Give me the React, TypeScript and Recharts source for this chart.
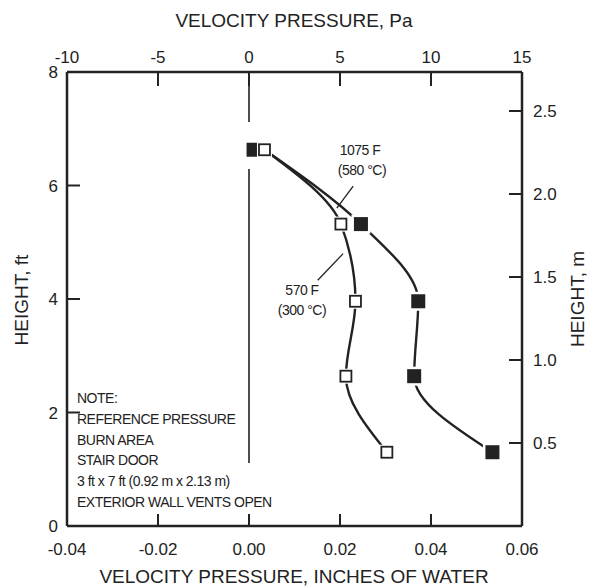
import { ComposedChart, Scatter, XAxis, YAxis, ReferenceLine } from 'recharts';

// heights of the five measuring points, ft
const heightsFt = [6.63, 5.32, 3.96, 2.64, 1.3];
// velocity pressure, inches of water
const hotPressure = [0.001, 0.0246, 0.0372, 0.0363, 0.0535]; // 1075 F (580 °C)
const warmPressure = [0.0034, 0.0202, 0.0234, 0.0213, 0.0303]; // 570 F (300 °C)

// bottom (in. of water) and top (Pa) ticks line up one for one
const inchTicks = [-0.04, -0.02, 0, 0.02, 0.04, 0.06];
const paTicks = [-10, -5, 0, 5, 10, 15];
const ftTicks = [0, 2, 4, 6, 8];
const mTicks = [0.5, 1.0, 1.5, 2.0, 2.5];

const noteLines = [
  'NOTE:',
  'REFERENCE PRESSURE',
  'BURN AREA',
  'STAIR DOOR',
  '3 ft x 7 ft (0.92 m x 2.13 m)',
  'EXTERIOR WALL VENTS OPEN',
];

const hotData = heightsFt.map((y, i) => ({ x: hotPressure[i], y }));
const warmData = heightsFt.map((y, i) => ({ x: warmPressure[i], y }));
// in the original both curves leave the top pair of markers from the open one
const hotCurve = hotData.map((d, i) => (i === 0 ? warmData[0] : d));

const INK = '#222';
const FONT = '"Liberation Sans", Arial, sans-serif';
const W = 595;
const H = 586;
const LEFT = 67;
const RIGHT = 522;
const TOP = 72;
const BOTTOM = 526;

// draws the bottom tick and the matching Pa tick on the top edge
function BottomTick(p: any) {
  const v = p.payload.value;
  const i = p.index;
  const inner = i > 0 && i < inchTicks.length - 1;
  return (
    <g>
      {inner && <line x1={p.x} x2={p.x} y1={BOTTOM} y2={BOTTOM - 12} stroke={INK} strokeWidth={2} />}
      <text x={p.x} y={555} textAnchor="middle" fontSize={17} fontFamily={FONT} fill={INK}>
        {v.toFixed(2)}
      </text>
      {inner && <line x1={p.x} x2={p.x} y1={TOP} y2={TOP + 14} stroke={INK} strokeWidth={2} />}
      <text x={p.x} y={63} textAnchor="middle" fontSize={17} fontFamily={FONT} fill={INK}>
        {paTicks[i]}
      </text>
    </g>
  );
}

function LeftTick(p: any) {
  const v = p.payload.value;
  const inner = v > 0 && v < 8;
  return (
    <g>
      {inner && <line x1={LEFT} x2={LEFT + 13} y1={p.y} y2={p.y} stroke={INK} strokeWidth={2} />}
      <text x={58} y={p.y + 6} textAnchor="end" fontSize={17} fontFamily={FONT} fill={INK}>
        {v}
      </text>
    </g>
  );
}

function RightTick(p: any) {
  const v = p.payload.value;
  return (
    <g>
      <line x1={RIGHT} x2={RIGHT - 13} y1={p.y} y2={p.y} stroke={INK} strokeWidth={2} />
      <text x={533} y={p.y + 6} textAnchor="start" fontSize={17} fontFamily={FONT} fill={INK}>
        {v.toFixed(1)}
      </text>
    </g>
  );
}

function NoMarker() {
  return <g />;
}

function FilledSquare(p: any) {
  return (
    <g>
      <rect x={p.cx - 9.5} y={p.cy - 9.5} width={19} height={19} fill="#fff" />
      <rect x={p.cx - 7} y={p.cy - 7} width={14} height={14} fill={INK} />
    </g>
  );
}

function OpenSquare(p: any) {
  return (
    <g>
      <rect x={p.cx - 7.5} y={p.cy - 7.5} width={15} height={15} fill="#fff" />
      <rect x={p.cx - 5.5} y={p.cy - 5.5} width={11} height={11} fill="#fff" stroke={INK} strokeWidth={1.8} />
    </g>
  );
}

const axisLine = { stroke: INK, strokeWidth: 2.5 };
const thin = { stroke: INK, strokeWidth: 1.6 };
const curveLine = { stroke: INK, strokeWidth: 2.4 };

export default function App() {
  return (
    <div style={{ position: 'absolute', left: 0, top: 0, width: W, height: H, background: '#fff' }}>
      <ComposedChart width={W} height={H} margin={{ top: 0, right: 0, bottom: 0, left: 0 }}>
        <XAxis
          xAxisId="in"
          type="number"
          dataKey="x"
          orientation="bottom"
          domain={[-0.04, 0.06]}
          ticks={inchTicks}
          interval={0}
          height={H - BOTTOM}
          axisLine={axisLine}
          tickLine={false}
          tick={BottomTick}
          allowDataOverflow
        />
        <XAxis
          xAxisId="pa"
          type="number"
          orientation="top"
          domain={[-10, 15]}
          height={TOP}
          axisLine={axisLine}
          tickLine={false}
          tick={false}
          allowDataOverflow
        />
        <YAxis
          yAxisId="ft"
          type="number"
          dataKey="y"
          domain={[0, 8]}
          ticks={ftTicks}
          interval={0}
          width={LEFT}
          axisLine={axisLine}
          tickLine={false}
          tick={LeftTick}
          allowDataOverflow
        />
        <YAxis
          yAxisId="m"
          type="number"
          orientation="right"
          domain={[0, 2.735]}
          ticks={mTicks}
          interval={0}
          width={W - RIGHT}
          axisLine={axisLine}
          tickLine={false}
          tick={RightTick}
          allowDataOverflow
        />
        {/* zero line, broken around the top markers */}
        <ReferenceLine xAxisId="in" yAxisId="ft" segment={[{ x: 0, y: 8 }, { x: 0, y: 7.12 }]} {...thin} />
        <ReferenceLine xAxisId="in" yAxisId="ft" segment={[{ x: 0, y: 6.29 }, { x: 0, y: 1.11 }]} {...thin} />
        {/* leader lines to the curve labels */}
        <ReferenceLine xAxisId="in" yAxisId="ft" segment={[{ x: 0.0229, y: 5.99 }, { x: 0.0193, y: 5.6 }]} stroke={INK} strokeWidth={1.3} />
        <ReferenceLine xAxisId="in" yAxisId="ft" segment={[{ x: 0.0207, y: 4.8 }, { x: 0.0151, y: 4.33 }]} stroke={INK} strokeWidth={1.3} />
        <Scatter
          xAxisId="in"
          yAxisId="ft"
          data={hotCurve}
          line={curveLine}
          lineType="joint"
          lineJointType="monotoneY"
          shape={NoMarker}
          isAnimationActive={false}
        />
        <Scatter
          xAxisId="in"
          yAxisId="ft"
          data={warmData}
          line={curveLine}
          lineType="joint"
          lineJointType="monotoneY"
          shape={NoMarker}
          isAnimationActive={false}
        />
        <Scatter xAxisId="in" yAxisId="ft" data={hotData} shape={FilledSquare} isAnimationActive={false} />
        <Scatter xAxisId="in" yAxisId="ft" data={warmData} shape={OpenSquare} isAnimationActive={false} />
      </ComposedChart>
      <svg
        width={W}
        height={H}
        style={{ position: 'absolute', left: 0, top: 0, pointerEvents: 'none' }}
        fontFamily={FONT}
        fill={INK}
      >
        <text x={294} y={27} textAnchor="middle" fontSize={19}>VELOCITY PRESSURE,  Pa</text>
        <text x={294} y={583} textAnchor="middle" fontSize={19}>VELOCITY PRESSURE,  INCHES OF WATER</text>
        <text transform="translate(28 300) rotate(-90)" textAnchor="middle" fontSize={19}>HEIGHT,  ft</text>
        <text transform="translate(584 299) rotate(-90)" textAnchor="middle" fontSize={19}>HEIGHT,  m</text>
        <text x={360} y={155} textAnchor="middle" fontSize={14} letterSpacing={-0.5}>1075 F</text>
        <text x={362} y={175} textAnchor="middle" fontSize={14} letterSpacing={-0.5}>(580 °C)</text>
        <text x={302} y={295} textAnchor="middle" fontSize={14} letterSpacing={-0.5}>570 F</text>
        <text x={302} y={315} textAnchor="middle" fontSize={14} letterSpacing={-0.5}>(300 °C)</text>
        {noteLines.map((t, i) => (
          <text key={t} x={77} y={403 + i * 20.8} fontSize={14} letterSpacing={-0.5}>
            {t}
          </text>
        ))}
      </svg>
    </div>
  );
}
